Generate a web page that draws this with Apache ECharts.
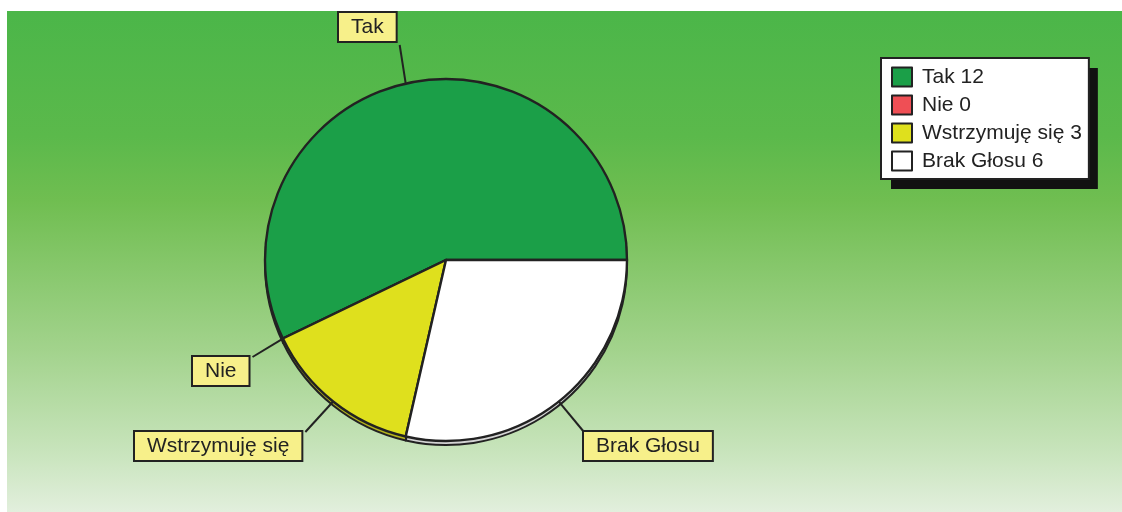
<!DOCTYPE html>
<html>
<head>
<meta charset="utf-8">
<script src="https://cdn.jsdelivr.net/npm/echarts@6/dist/echarts.min.js"></script>
<style>
  html, body { margin: 0; padding: 0; background: #ffffff; }
  #chart { width: 1122px; height: 512px; }
</style>
</head>
<body>
<div id="chart"></div>
<script>
// ---- data ----
const categories = ['Tak', 'Nie', 'Wstrzymuję się', 'Brak Głosu'];
const votes = [12, 0, 3, 6];

// ---- styles ----
const sliceColors = ['#1b9f48', '#ef4f55', '#dfe01d', '#ffffff'];
const rimColors = ['#137a36', '#b83a3f', '#b4b41c', '#d4d4d4'];
const labelBoxes = [[339, 13], [193, 357], [135, 432], [584, 432]];
const FONT = '"Liberation Sans", Arial, Helvetica, sans-serif';

const chart = echarts.init(document.getElementById('chart'), null, { renderer: 'canvas' });

const mainData = categories.map((c, i) => ({ name: c, value: votes[i], itemStyle: { color: sliceColors[i] } }));
const rimData = categories.map((c, i) => ({ name: c, value: votes[i], itemStyle: { color: rimColors[i] } }));

function legendFormatter(name) {
  const i = categories.indexOf(name);
  return name + ' ' + votes[i];
}

const legendBase = {
  orient: 'vertical',
  padding: [8, 7, 7, 10],
  itemWidth: 20,
  itemHeight: 19,
  itemGap: 6,
  icon: 'rect',
  borderRadius: 0,
  selectedMode: false,
  data: categories,
  formatter: legendFormatter
};

const option = {
  animation: false,
  textStyle: { fontFamily: FONT },
  graphic: [{
    type: 'rect',
    z: -100,
    silent: true,
    shape: { x: 7, y: 11, width: 1115, height: 501 },
    style: {
      fill: new echarts.graphic.LinearGradient(0, 0, 0, 1, [
        { offset: 0, color: '#4bb649' },
        { offset: 0.25, color: '#5bb94b' },
        { offset: 0.38, color: '#70be51' },
        { offset: 0.68, color: '#a3d38d' },
        { offset: 0.88, color: '#c8e4bc' },
        { offset: 1, color: '#e2efdd' }
      ])
    }
  }],
  legend: [
    Object.assign({}, legendBase, {
      id: 'shadow',
      z: 1,
      left: 891,
      top: 68,
      backgroundColor: '#111111',
      borderWidth: 0,
      itemStyle: { opacity: 0, borderWidth: 0 },
      textStyle: { fontSize: 21, lineHeight: 22, color: 'rgba(0,0,0,0)', fontFamily: FONT, padding: [0, 0, 0, 5] }
    }),
    Object.assign({}, legendBase, {
      id: 'main',
      z: 2,
      left: 881,
      top: 58,
      backgroundColor: '#ffffff',
      borderColor: '#222222',
      borderWidth: 2,
      itemStyle: { borderColor: '#222222', borderWidth: 2 },
      textStyle: { fontSize: 21, lineHeight: 22, color: '#222222', fontFamily: FONT, padding: [0, 0, 0, 5] }
    })
  ],
  series: [
    {
      type: 'pie',
      name: 'main',
      z: 3,
      center: [446, 260],
      radius: 181,
      startAngle: 0,
      clockwise: false,
      avoidLabelOverlap: false,
      minShowLabelAngle: 0,
      itemStyle: { borderColor: '#222222', borderWidth: 2.4 },
      emphasis: { disabled: true },
      label: {
        show: true,
        position: 'outside',
        formatter: '{b}',
        fontFamily: FONT,
        fontSize: 21,
        color: '#222222',
        backgroundColor: '#f7f08a',
        borderColor: '#222222',
        borderWidth: 2,
        padding: [3, 12, 3, 12],
        lineHeight: 22
      },
      labelLine: {
        show: true,
        length: 10,
        length2: 10,
        smooth: false,
        lineStyle: { color: '#222222', width: 2 }
      },
      labelLayout: function (params) {
        const i = params.dataIndex;
        const box = labelBoxes[i];
        const w = params.labelRect.width;
        const h = params.labelRect.height;
        const start = (params.labelLinePoints && params.labelLinePoints[0]) || [446, 260];
        const corners = [[box[0], box[1]], [box[0] + w, box[1]], [box[0], box[1] + h], [box[0] + w, box[1] + h]];
        let best = corners[0], bd = Infinity;
        corners.forEach(function (c) {
          const d = (c[0] - start[0]) * (c[0] - start[0]) + (c[1] - start[1]) * (c[1] - start[1]);
          if (d < bd) { bd = d; best = c; }
        });
        return {
          x: box[0],
          y: box[1],
          align: 'left',
          verticalAlign: 'top',
          labelLinePoints: [[start[0], start[1]], [best[0], best[1]]]
        };
      },
      data: mainData
    },
    {
      type: 'pie',
      name: 'rim',
      z: 2,
      silent: true,
      center: [446, 264],
      radius: 181,
      startAngle: 0,
      clockwise: false,
      itemStyle: { borderColor: '#222222', borderWidth: 2 },
      label: { show: false },
      labelLine: { show: false },
      emphasis: { disabled: true },
      tooltip: { show: false },
      data: rimData
    }
  ]
};

chart.setOption(option);
</script>
</body>
</html>
